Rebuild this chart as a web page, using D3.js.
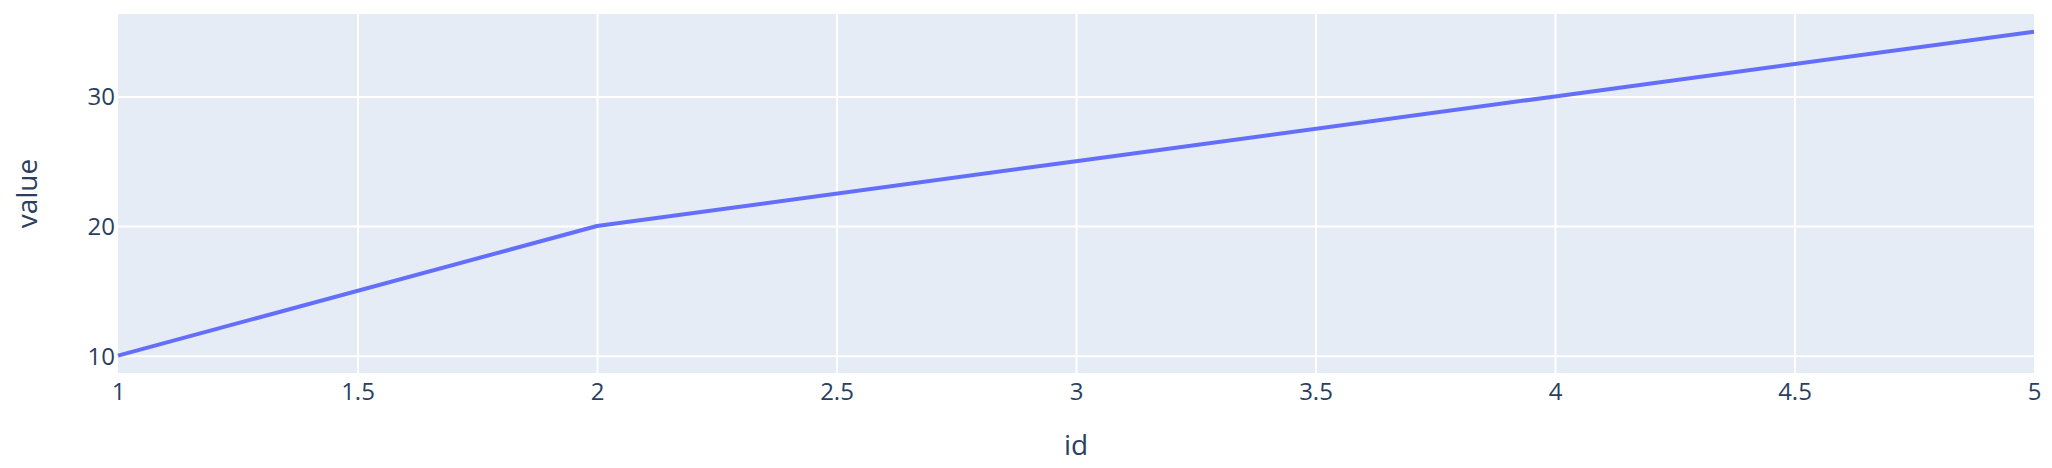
<!DOCTYPE html>
<html>
<head>
<meta charset="utf-8">
<script src="https://cdn.jsdelivr.net/npm/d3@7"></script>
<style>
  html, body { margin: 0; padding: 0; background: #fff; }
  svg { display: block; }
  text { font-family: "Open Sans", verdana, arial, sans-serif; fill: #2a3f5f; }
</style>
</head>
<body>
<svg id="chart" width="2052" height="468"></svg>
<script>
const ids = [1, 2, 3, 4, 5];
const values = [10, 20, 25, 30, 35];
const xTicks = [1, 1.5, 2, 2.5, 3, 3.5, 4, 4.5, 5];
const yTicks = [10, 20, 30];
const xTitle = "id";
const yTitle = "value";

const W = 2052, H = 468;
const m = { left: 118, right: 18, top: 14, bottom: 95 };
const pw = W - m.left - m.right, ph = H - m.top - m.bottom;

const svg = d3.select("#chart");
const x = d3.scaleLinear().domain([1, 5]).range([m.left, m.left + pw]);
const y = d3.scaleLinear().domain([8.66, 36.36]).range([m.top + ph, m.top]);

svg.append("rect").attr("x", m.left).attr("y", m.top).attr("width", pw).attr("height", ph).attr("fill", "#E5ECF6");

// gridlines
const xAxis = d3.axisBottom(x).tickValues(xTicks).tickSize(-ph).tickFormat(d3.format("~g")).tickPadding(0);
const gx = svg.append("g").attr("transform", `translate(0,${m.top + ph})`).call(xAxis);
gx.select(".domain").remove();
gx.selectAll(".tick line").attr("stroke", "#fff").attr("stroke-width", 2)
  .attr("display", d => (d === 1 || d === 5) ? "none" : null);
gx.selectAll(".tick text").attr("font-size", 24).attr("fill", "#2a3f5f").attr("y", 27).attr("dy", 0)
  .style("font-family", '"Open Sans", verdana, arial, sans-serif');

const yAxis = d3.axisLeft(y).tickValues(yTicks).tickSize(-pw).tickFormat(d3.format("~g")).tickPadding(0);
const gy = svg.append("g").attr("transform", `translate(${m.left},0)`).call(yAxis);
gy.select(".domain").remove();
gy.selectAll(".tick line").attr("stroke", "#fff").attr("stroke-width", 2);
gy.selectAll(".tick text").attr("font-size", 24).attr("fill", "#2a3f5f").attr("x", -3).attr("dy", "0.35em")
  .style("font-family", '"Open Sans", verdana, arial, sans-serif');

// line
const line = d3.line().x((d, i) => x(ids[i])).y(d => y(d));
svg.append("path").datum(values).attr("d", line).attr("fill", "none")
  .attr("stroke", "#636EFA").attr("stroke-width", 4).attr("stroke-linejoin", "round");

// titles
svg.append("text").attr("x", m.left + pw / 2).attr("y", 455).attr("text-anchor", "middle")
  .attr("font-size", 28).text(xTitle);
svg.append("text").attr("transform", `translate(37,${m.top + ph / 2}) rotate(-90)`).attr("text-anchor", "middle")
  .attr("font-size", 28).text(yTitle);
</script>
</body>
</html>
